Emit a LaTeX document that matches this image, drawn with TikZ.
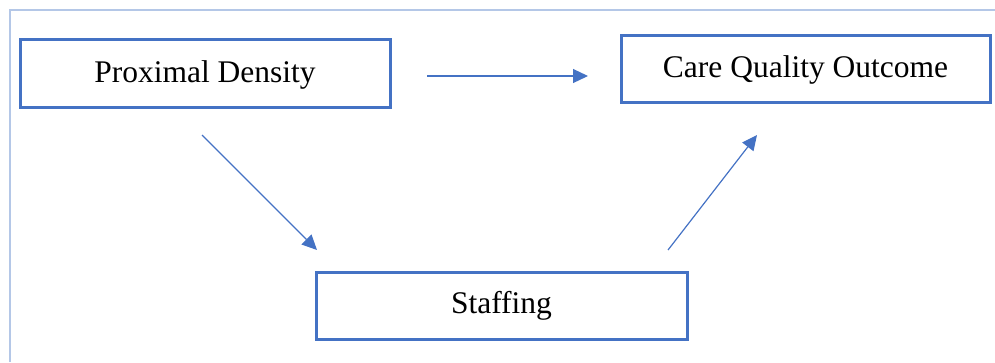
\documentclass[tikz,border=0pt]{standalone}
\usepackage{fontspec}
\setmainfont{Liberation Serif}
\usetikzlibrary{arrows.meta}
\definecolor{boxblue}{HTML}{4472C4}
\definecolor{framegray}{HTML}{B4C7E7}
\begin{document}
\begin{tikzpicture}[x=1pt,y=-1pt,
  box/.style={draw=boxblue, line width=3pt, fill=white, inner sep=0pt},
  label/.style={font=\fontsize{31.5}{36}\selectfont, text=black, anchor=base, inner sep=0pt},
  link/.style={draw=boxblue, line width=1.2pt,
    -{Triangle[length=15pt,width=14pt]}}]
  \useasboundingbox (0,0) rectangle (995,362);
  % light frame along top and left
  \draw[framegray, line width=2.2pt] (10,362) -- (10,10) -- (995,10);
  % boxes
  \node[box, minimum width=370pt, minimum height=68pt] (prox) at (205,73) {};
  \node[box, minimum width=369pt, minimum height=67pt] (care) at (805.5,68.5) {};
  \node[box, minimum width=371pt, minimum height=67pt] (staff) at (501.5,305.5) {};
  % labels, centred in their boxes
  \node[label] (proxtext) at ([yshift=-9pt]prox.center) {Proximal Density};
  \node[label] (caretext) at ([yshift=-8.5pt]care.center) {Care Quality Outcome};
  \node[label] (stafftext) at ([yshift=-7.5pt]staff.center) {Staffing};
  % arrow end points
  \coordinate (a1s) at (427,76);
  \coordinate (a1e) at (588,76);
  \coordinate (a2s) at (202,135);
  \coordinate (a2e) at (317,250);
  \coordinate (a3s) at (668,250);
  \coordinate (a3e) at (757,135);
  \draw[link] (a1s) -- (a1e);
  \draw[link] (a2s) -- (a2e);
  \draw[link] (a3s) -- (a3e);
\end{tikzpicture}
\end{document}
